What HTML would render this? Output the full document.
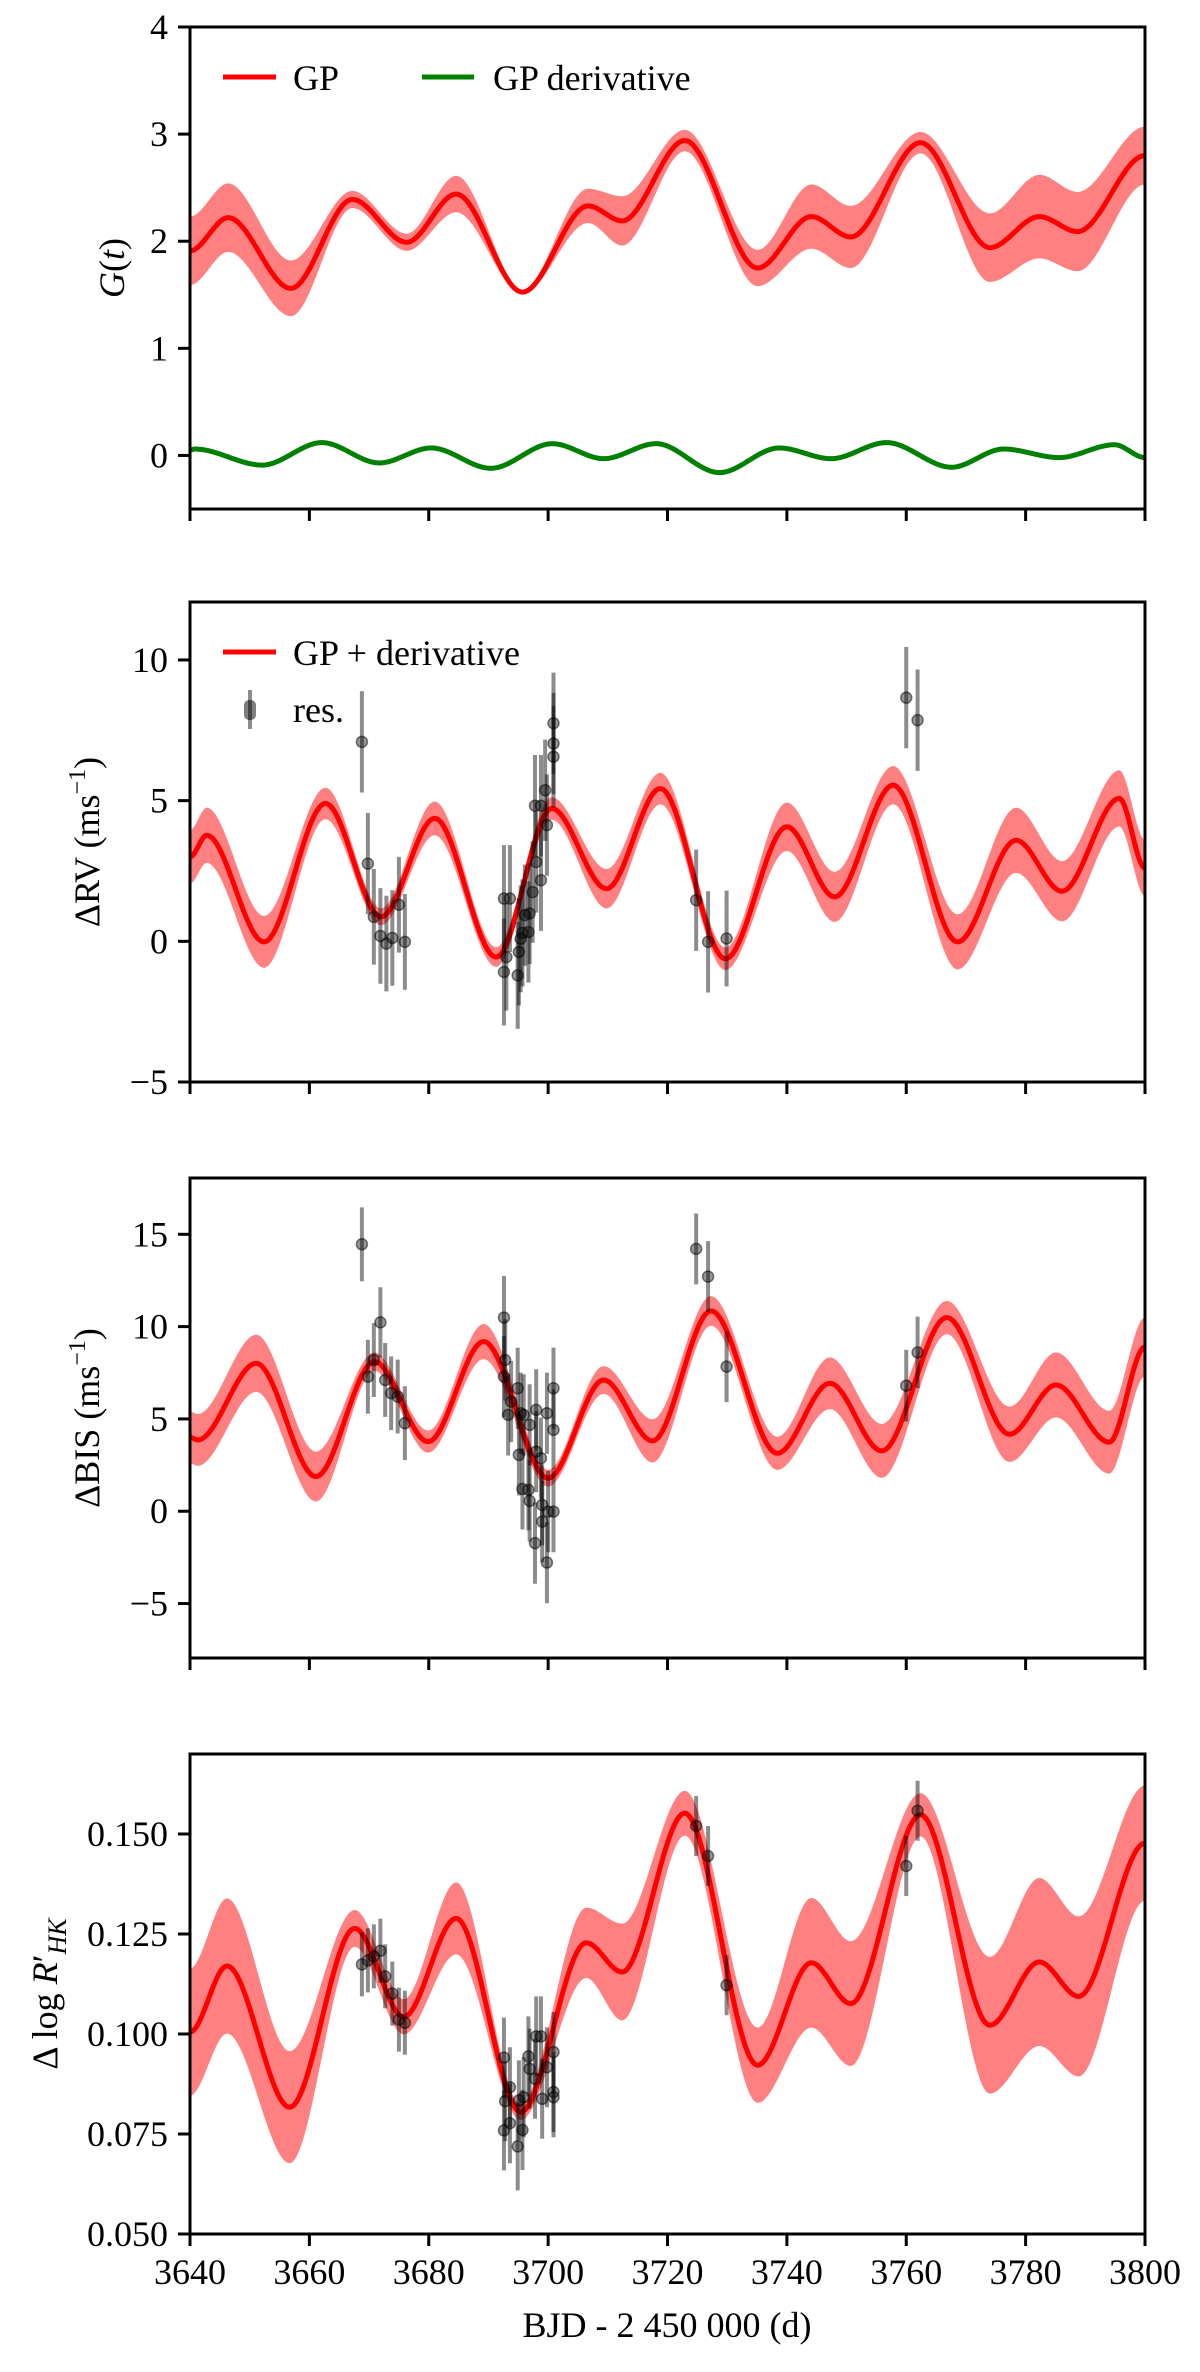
<!DOCTYPE html>
<html><head><meta charset="utf-8">
<style>
html,body{margin:0;padding:0;background:#fff;}
svg, svg text{font-family:"Liberation Serif","Times New Roman",Times,"Nimbus Roman","DejaVu Serif",serif;}
</style></head>
<body>
<svg id="fig" width="1200" height="2367" viewBox="0 0 1200 2367" xmlns="http://www.w3.org/2000/svg"></svg>
<script>
// ---------- data ----------
const xTicks = [3640,3660,3680,3700,3720,3740,3760,3780,3800];

// Panel 1: GP G(t)
const gpT = [3640,3646.4,3656.9,3667.2,3676.3,3684.6,3695.7,3706.7,3712.4,3722.9,3735.1,3744.1,3750.7,3762.4,3774.0,3782.3,3788.7,3800];
const gpV = [1.91,2.22,1.56,2.39,1.99,2.44,1.525,2.33,2.19,2.94,1.75,2.23,2.04,2.92,1.94,2.23,2.09,2.80];
const gpW = [0.32,0.32,0.26,0.08,0.08,0.17,0.02,0.16,0.23,0.10,0.17,0.30,0.29,0.10,0.32,0.39,0.37,0.27];
const derT = [3640,3640.8,3652.1,3662.1,3671.7,3680.4,3690.4,3700.7,3709.3,3718.1,3728.7,3738.7,3747.4,3756.7,3767.6,3776.3,3785.6,3794.9,3800];
const derV = [0.05,0.06,-0.09,0.12,-0.07,0.07,-0.12,0.11,-0.03,0.11,-0.16,0.07,-0.03,0.12,-0.11,0.06,-0.02,0.10,-0.02];
const gTicks = [0,1,2,3,4];

// Panel 2: RV
const rvT = [3640,3642.8,3652.4,3662.7,3672.0,3681.0,3691.3,3700.6,3709.8,3718.8,3729.7,3740.0,3748.0,3757.8,3768.6,3778.4,3786.1,3795.7,3800];
const rvV = [3.0,3.77,-0.02,4.9,0.87,4.37,-0.56,4.72,1.87,5.43,-0.62,4.07,1.58,5.55,-0.02,3.59,1.78,5.08,2.6];
const rvW = [0.95,0.98,0.92,0.56,0.30,0.60,0.35,0.40,0.70,0.56,0.40,0.86,0.89,0.68,0.98,1.16,1.07,1.0,1.0];
const rvPtT = [3668.8,3669.8,3670.8,3671.9,3672.9,3673.9,3675.0,3676.0,3692.6,3693.6,3692.6,3693.0,3694.9,3695.1,3695.4,3695.7,3696.1,3696.7,3696.9,3697.4,3698.0,3698.8,3697.8,3698.8,3699.5,3699.8,3700.9,3700.9,3700.9,3724.8,3726.8,3729.9,3760.0,3761.9];
const rvPtV = [7.09,2.76,0.87,0.19,-0.08,0.12,1.3,-0.02,1.52,1.52,-1.09,-0.56,-1.21,-0.38,0.09,0.3,0.93,0.33,0.99,1.75,2.82,2.17,4.82,4.82,5.37,4.13,7.75,7.03,6.56,1.46,-0.02,0.1,8.66,7.86];
const rvPtE = [1.8,1.8,1.7,1.7,1.7,1.7,1.7,1.7,1.9,1.9,1.9,1.9,1.9,1.9,1.9,1.9,1.8,1.8,1.8,1.8,1.8,1.8,1.8,1.8,1.8,1.8,1.8,1.8,1.8,1.8,1.8,1.7,1.8,1.8];
const rvTicks = [-5,0,5,10];

// Panel 3: BIS
const bisT = [3640,3641.3,3651.1,3661.1,3670.9,3679.9,3689.2,3700.0,3709.3,3717.5,3727.3,3738.4,3747.2,3755.9,3766.8,3777.3,3785.1,3794.0,3800];
const bisV = [4.0,3.86,8.01,1.88,8.1,3.77,9.19,1.79,7.11,3.81,10.85,3.14,6.93,3.27,10.49,4.17,6.84,3.74,8.9];
const bisW = [1.4,1.4,1.55,1.35,0.5,0.6,0.95,0.45,0.75,1.17,0.8,0.9,1.4,1.46,0.9,1.5,1.76,1.7,1.6];
const bisPtT = [3668.8,3669.8,3670.8,3671.9,3672.7,3673.7,3674.8,3676.0,3692.6,3692.8,3692.6,3693.3,3693.8,3694.9,3695.1,3695.4,3695.9,3695.7,3696.7,3696.9,3696.9,3698.0,3698.0,3697.8,3698.8,3699.0,3699.0,3699.8,3699.8,3700.9,3700.9,3700.9,3700.0,3724.8,3726.8,3729.9,3760.0,3761.9];
const bisPtV = [14.46,7.29,8.19,10.23,7.11,6.39,6.21,4.77,10.49,8.19,7.29,5.22,5.94,6.66,3.05,5.31,5.22,1.21,1.16,0.56,4.68,5.49,3.23,-1.73,2.87,0.34,-0.56,5.31,-2.78,6.66,4.41,-0.02,-0.02,14.21,12.71,7.83,6.8,8.6];
const bisPtE = [2.0,2.0,2.0,1.9,2.0,2.0,2.0,2.0,2.25,2.2,2.2,2.2,2.2,2.2,2.2,2.2,2.2,2.2,2.2,2.2,2.2,2.2,2.2,2.2,2.2,2.2,2.2,2.2,2.2,2.2,2.2,2.2,2.2,1.92,1.92,1.92,1.94,1.94];
const bisTicks = [-5,0,5,10,15];

// Panel 4: log R'HK
const rhkT = [3640,3646.2,3656.7,3667.6,3675.8,3684.6,3695.4,3706.4,3712.4,3722.9,3735.1,3744.1,3750.7,3762.4,3774.0,3782.3,3788.9,3800];
const rhkV = [0.1005,0.117,0.0817,0.1264,0.1043,0.1289,0.0805,0.1228,0.1155,0.1552,0.0922,0.1178,0.1076,0.1548,0.1022,0.118,0.1094,0.1477];
const rhkW = [0.0159,0.0169,0.014,0.0046,0.0044,0.009,0.002,0.0088,0.0121,0.0056,0.0094,0.0162,0.0156,0.0054,0.0171,0.021,0.02,0.0144];
const rhkPtT = [3668.8,3669.8,3670.8,3671.9,3672.7,3673.9,3675.0,3676.0,3692.6,3692.8,3692.6,3693.6,3693.6,3694.9,3695.1,3695.7,3695.9,3696.7,3696.9,3697.8,3698.0,3698.8,3699.0,3699.8,3700.9,3700.9,3700.9,3724.8,3726.8,3729.9,3760.0,3761.9];
const rhkPtV = [0.1174,0.1184,0.1194,0.1208,0.1144,0.1101,0.1036,0.1028,0.0941,0.0832,0.0759,0.0867,0.0777,0.0719,0.0834,0.076,0.0842,0.0944,0.0913,0.0888,0.0994,0.0994,0.0838,0.0917,0.0955,0.0855,0.0842,0.152,0.1445,0.1122,0.142,0.1558];
const rhkPtE = [0.008,0.008,0.008,0.008,0.008,0.008,0.008,0.008,0.010,0.010,0.010,0.010,0.010,0.011,0.010,0.010,0.010,0.010,0.010,0.010,0.010,0.010,0.010,0.010,0.010,0.010,0.010,0.0075,0.0075,0.0075,0.0075,0.0075];
const rhkTicks = [0.050,0.075,0.100,0.125,0.150];

// ---------- drawing ----------
const NS = 'http://www.w3.org/2000/svg';
const svg = document.getElementById('fig');
const X0 = 190, X1 = 1145, T0 = 3640, T1 = 3800;
function xs(t){ return X0 + (t - T0) / (T1 - T0) * (X1 - X0); }
function mk(tag, attrs, parent){
  const e = document.createElementNS(NS, tag);
  for (const k in attrs) e.setAttribute(k, attrs[k]);
  (parent || svg).appendChild(e);
  return e;
}
function herm(ts, vs, t){
  if (t <= ts[0]) return vs[0];
  if (t >= ts[ts.length-1]) return vs[vs.length-1];
  let i = 0;
  while (i < ts.length-2 && t > ts[i+1]) i++;
  const s = (t - ts[i]) / (ts[i+1] - ts[i]);
  const h = s*s*(3-2*s);
  return vs[i] + (vs[i+1]-vs[i]) * h;
}
function makeY(top, bot, vmax, vmin){
  return v => top + (vmax - v) / (vmax - vmin) * (bot - top);
}
const samples = [];
for (let t = T0; t <= T1 + 1e-9; t += 0.25) samples.push(t);

function drawBand(g, ts, vs, ws, ys, name){
  let d = '';
  samples.forEach((t,i)=>{ d += (i?'L':'M') + xs(t).toFixed(2) + ',' + ys(herm(ts,vs,t)+herm(ts,ws,t)).toFixed(2); });
  for (let i = samples.length-1; i >= 0; i--){ const t = samples[i]; d += 'L' + xs(t).toFixed(2) + ',' + ys(herm(ts,vs,t)-herm(ts,ws,t)).toFixed(2); }
  d += 'Z';
  const p = mk('path', {d: d, fill: '#ff8080', stroke: 'none'}, g);
  
  
}
function drawLine(g, ts, vs, ys, color, name){
  let d = '';
  samples.forEach((t,i)=>{ d += (i?'L':'M') + xs(t).toFixed(2) + ',' + ys(herm(ts,vs,t)).toFixed(2); });
  const p = mk('path', {d: d, fill: 'none', stroke: color, 'stroke-width': 5, 'stroke-linejoin': 'round'}, g);
  
  
}
function drawPoints(g, ts, vs, es, ys){
  for (let i = 0; i < ts.length; i++){
    const x = xs(ts[i]);
    const l = mk('line', {x1: x, x2: x, y1: ys(vs[i]+es[i]), y2: ys(vs[i]-es[i]), stroke: 'rgba(0,0,0,0.45)', 'stroke-width': 4}, g);
    
    
    const c = mk('circle', {cx: x, cy: ys(vs[i]), r: 5.5, fill: 'rgba(0,0,0,0.4)', stroke: 'rgba(0,0,0,0.5)', 'stroke-width': 1.5}, g);
    
    
  }
}
function drawAxes(top, bot, ys, ticks, fmt, name, showX){
  const g = mk('g', {});
  
  
  mk('rect', {x: X0, y: top, width: X1-X0, height: bot-top, fill: 'none', stroke: '#000', 'stroke-width': 3}, g);
  ticks.forEach(v=>{
    const y = ys(v);
    mk('line', {x1: X0-12, x2: X0, y1: y, y2: y, stroke: '#000', 'stroke-width': 3}, g);
    const tx = mk('text', {x: X0-22, y: y+12, 'text-anchor': 'end', 'font-size': 36}, g);
    tx.textContent = fmt(v);
    
    
  });
  xTicks.forEach(t=>{
    const x = xs(t);
    mk('line', {x1: x, x2: x, y1: bot, y2: bot+12, stroke: '#000', 'stroke-width': 3}, g);
    if (showX){
      const tx = mk('text', {x: x, y: bot+50, 'text-anchor': 'middle', 'font-size': 36}, g);
      tx.textContent = t;
      
      
    }
  });
}
function clipFor(top, bot, id){
  const defs = mk('defs', {});
  const cp = mk('clipPath', {id: id}, defs);
  mk('rect', {x: X0, y: top, width: X1-X0, height: bot-top}, cp);
}
const fmtInt = v => (v < 0 ? '\u2212' + Math.abs(v) : '' + v);

(function(){
  const top = 27, bot = 509, ys = makeY(top, bot, 4, -0.5);
  clipFor(top, bot, 'c1');
  const g = mk('g', {'clip-path': 'url(#c1)'});
  
  
  drawBand(g, gpT, gpV, gpW, ys, 'gp-band');
  drawLine(g, gpT, gpV, ys, '#ff0000', 'gp-line');
  drawBand(g, derT, derV, derV.map(()=>0.015), ys, 'gp-derivative-band');
  drawLine(g, derT, derV, ys, '#008000', 'gp-derivative-line');
  drawAxes(top, bot, ys, gTicks, fmtInt, 'gp', false);
})();
(function(){
  const top = 602, bot = 1082, ys = makeY(top, bot, 12.06, -5);
  clipFor(top, bot, 'c2');
  const g = mk('g', {'clip-path': 'url(#c2)'});
  
  
  drawBand(g, rvT, rvV, rvW, ys, 'rv-band');
  drawLine(g, rvT, rvV, ys, '#ff0000', 'rv-line');
  drawPoints(g, rvPtT, rvPtV, rvPtE, ys);
  drawAxes(top, bot, ys, rvTicks, fmtInt, 'rv', false);
})();
(function(){
  const top = 1178, bot = 1658, ys = makeY(top, bot, 18.05, -7.95);
  clipFor(top, bot, 'c3');
  const g = mk('g', {'clip-path': 'url(#c3)'});
  
  
  drawBand(g, bisT, bisV, bisW, ys, 'bis-band');
  drawLine(g, bisT, bisV, ys, '#ff0000', 'bis-line');
  drawPoints(g, bisPtT, bisPtV, bisPtE, ys);
  drawAxes(top, bot, ys, bisTicks, fmtInt, 'bis', false);
})();
(function(){
  const top = 1754, bot = 2234, ys = makeY(top, bot, 0.1700, 0.050);
  clipFor(top, bot, 'c4');
  const g = mk('g', {'clip-path': 'url(#c4)'});
  
  
  drawBand(g, rhkT, rhkV, rhkW, ys, 'rhk-band');
  drawLine(g, rhkT, rhkV, ys, '#ff0000', 'rhk-line');
  drawPoints(g, rhkPtT, rhkPtV, rhkPtE, ys);
  drawAxes(top, bot, ys, rhkTicks, v => v.toFixed(3), 'rhk', true);
})();
</script>
<script>
(function(){
  const svg = document.getElementById('fig');
  const frag = `
  <g>
    <line x1="223" x2="276" y1="77" y2="77" stroke="#ff0000" stroke-width="5"/>
    <text x="293" y="90" font-size="36">GP</text>
    <line x1="422" x2="474" y1="77" y2="77" stroke="#008000" stroke-width="5"/>
    <text x="493" y="90" font-size="36">GP derivative</text>
  </g>
  <g>
    <line x1="223" x2="276" y1="652" y2="652" stroke="#ff0000" stroke-width="5"/>
    <text x="293" y="665" font-size="36">GP + derivative</text>
    <line x1="250" x2="250" y1="690" y2="729" stroke="rgba(0,0,0,0.45)" stroke-width="4"/>
    <rect x="244" y="700" width="12" height="20" rx="5" fill="rgba(0,0,0,0.5)"/>
    <text x="293" y="722" font-size="36">res.</text>
  </g>
  <text transform="translate(124,268) rotate(-90)" text-anchor="middle" font-size="36"><tspan font-style="italic">G</tspan>(<tspan font-style="italic">t</tspan>)</text>
  <text transform="translate(99,842) rotate(-90)" text-anchor="middle" font-size="36">ΔRV (ms<tspan font-size="24" dy="-14">−1</tspan><tspan dy="14">)</tspan></text>
  <text transform="translate(99,1418) rotate(-90)" text-anchor="middle" font-size="36">ΔBIS (ms<tspan font-size="24" dy="-14">−1</tspan><tspan dy="14">)</tspan></text>
  <text transform="translate(57,1994) rotate(-90)" text-anchor="middle" font-size="36">Δ log <tspan font-style="italic">R</tspan>′<tspan font-style="italic" font-size="26" dy="9">HK</tspan></text>
  <text x="667" y="2337" text-anchor="middle" font-size="36">BJD - 2 450 000 (d)</text>`;
  const tmp = document.createElementNS('http://www.w3.org/2000/svg','g');
  tmp.innerHTML = frag;
  while (tmp.firstChild) svg.appendChild(tmp.firstChild);
})();
</script>
</body></html>
